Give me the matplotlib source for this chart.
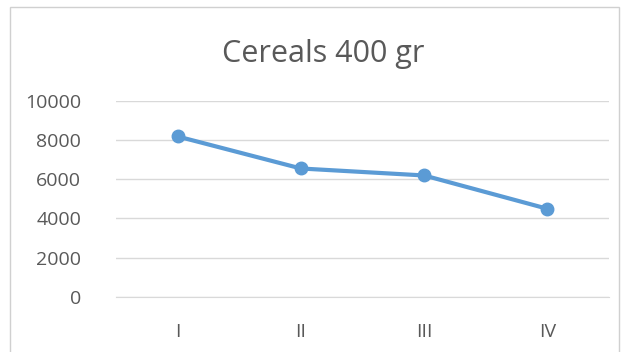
import matplotlib
matplotlib.use("Agg")
import matplotlib.pyplot as plt
from matplotlib.patches import Rectangle

quarters = ["I", "II", "III", "IV"]
sales = [8170, 6540, 6185, 4490]
y_ticks = [0, 2000, 4000, 6000, 8000, 10000]

text_color = "#595959"
line_color = "#5B9BD5"

plt.rcParams["font.family"] = ["Open Sans", "DejaVu Sans"]

fig = plt.figure(figsize=(6.27, 3.52), dpi=100)

# chart frame
fig.patches.append(Rectangle((10 / 627, -0.05), 609 / 627, 1.05 - 7 / 352,
                             transform=fig.transFigure, fill=False,
                             edgecolor="#D0D0D0", linewidth=1))

ax = fig.add_axes([116 / 627, 55 / 352, 493 / 627, 196.5 / 352])
x = range(len(quarters))
ax.plot(x, sales, color=line_color, linewidth=3, marker="o", markersize=9,
        solid_capstyle="round", zorder=3)

ax.set_xlim(-0.5, len(quarters) - 0.5)
ax.set_ylim(0, 10000)
ax.set_yticks(y_ticks)
ax.set_yticklabels([str(v) for v in y_ticks])
ax.set_xticks(list(x))
ax.set_xticklabels(quarters)
ax.grid(axis="y", color="#D9D9D9", linewidth=1)
ax.set_axisbelow(True)
for s in ax.spines.values():
    s.set_visible(False)
ax.spines["bottom"].set_visible(True)
ax.spines["bottom"].set_color("#D9D9D9")
ax.tick_params(axis="both", length=0, labelsize=14, labelcolor=text_color)
ax.tick_params(axis="y", pad=25)
ax.tick_params(axis="x", pad=19)

fig.text(323 / 627, 1 - 62 / 352, "Cereals 400 gr", ha="center", va="baseline",
         fontsize=22, color=text_color)

fig.savefig("out.png", dpi=100)
